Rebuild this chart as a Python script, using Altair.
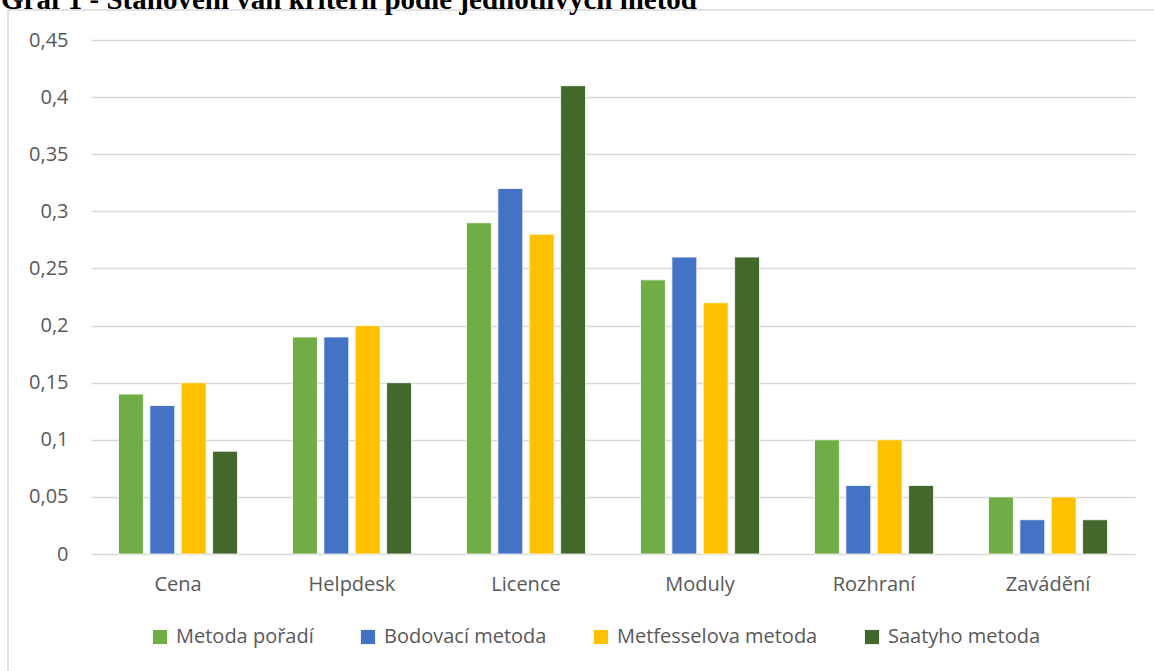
import altair as alt
import pandas as pd

categories = ["Cena", "Helpdesk", "Licence", "Moduly", "Rozhraní", "Zavádění"]
methods = ["Metoda pořadí", "Bodovací metoda", "Metfesselova metoda", "Saatyho metoda"]
colors = ["#70AD47", "#4472C4", "#FFC000", "#43682B"]

metoda_poradi = [0.14, 0.19, 0.29, 0.24, 0.10, 0.05]
bodovaci = [0.13, 0.19, 0.32, 0.26, 0.06, 0.03]
metfesselova = [0.15, 0.20, 0.28, 0.22, 0.10, 0.05]
saatyho = [0.09, 0.15, 0.41, 0.26, 0.06, 0.03]

y_ticks = [0, 0.05, 0.1, 0.15, 0.2, 0.25, 0.3, 0.35, 0.4, 0.45]
title_text = "Graf 1 - Stanovení vah kritérií podle jednotlivých metod"

series = [metoda_poradi, bodovaci, metfesselova, saatyho]
rows = []
for m, vals in zip(methods, series):
    for c, v in zip(categories, vals):
        rows.append({"kategorie": c, "metoda": m, "hodnota": v})
df = pd.DataFrame(rows)

FONT = "Open Sans"
GRAY = "#595959"
FS = 20

bars = alt.Chart(df).mark_bar(stroke="white", strokeWidth=0.8).encode(
    x=alt.X("kategorie:N", sort=categories, title=None,
            scale=alt.Scale(paddingInner=0.316, paddingOuter=0.158),
            axis=alt.Axis(labelAngle=0, domain=False, ticks=False, labelPadding=20,
                          labelFontSize=FS, labelFont=FONT, labelColor=GRAY)),
    xOffset=alt.XOffset("metoda:N", sort=methods,
                        scale=alt.Scale(paddingInner=0.206, paddingOuter=0)),
    y=alt.Y("hodnota:Q", title=None,
            scale=alt.Scale(domain=[0, 0.45], nice=False),
            axis=alt.Axis(values=y_ticks, domain=False, ticks=False, labelPadding=23,
                          labelFontSize=FS, labelFont=FONT, labelColor=GRAY,
                          gridColor="#D9D9D9", gridWidth=1.5,
                          labelExpr="replace(format(datum.value, '~g'), '.', ',')")),
    color=alt.Color("metoda:N", sort=methods,
                    scale=alt.Scale(domain=methods, range=colors),
                    legend=alt.Legend(title=None, orient="none", direction="horizontal",
                                      columns=4, legendX=59, legendY=587,
                                      symbolType="square", symbolSize=200,
                                      symbolStrokeWidth=0, labelOffset=6,
                                      columnPadding=44, labelFontSize=FS, labelLimit=0,
                                      labelFont=FONT, labelColor=GRAY)),
)

frame_left = alt.Chart(pd.DataFrame({"a": [0]})).mark_rule(color="#D9D9D9", strokeWidth=1.5).encode(
    x=alt.value(-83), y=alt.value(-30), y2=alt.value(700))
frame_top = alt.Chart(pd.DataFrame({"a": [0]})).mark_rule(color="#D9D9D9", strokeWidth=1.5).encode(
    x=alt.value(-83), x2=alt.value(1200), y=alt.value(-30))

title = alt.Chart(pd.DataFrame({"t": [title_text]})).mark_text(
    align="left", baseline="alphabetic", font="Liberation Serif", fontWeight="bold",
    fontSize=29, color="black").encode(
    text="t:N", x=alt.value(-90), y=alt.value(-31))

chart = alt.layer(frame_left, frame_top, bars, title).properties(
    width=1044, height=514,
    autosize=alt.AutoSizeParams(type="none"),
    padding={"left": 91, "top": 40, "right": 19, "bottom": 117},
    background="white",
).configure_view(stroke=None)

chart.save("out.html", embed_options={"renderer": "svg", "actions": False})
